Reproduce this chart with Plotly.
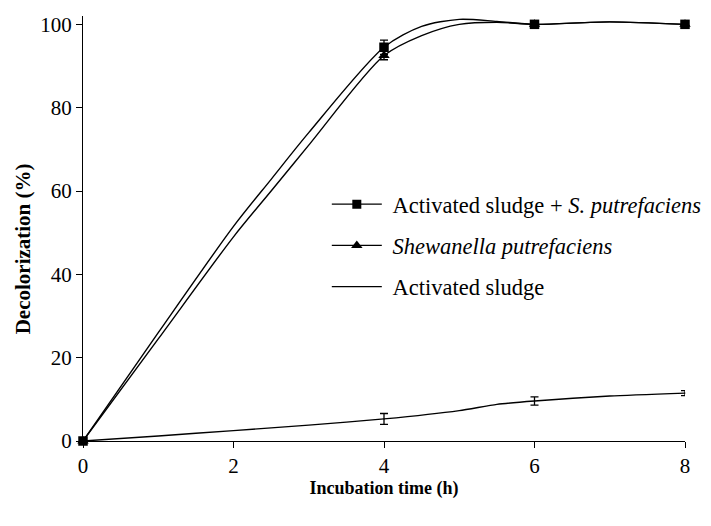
import plotly.graph_objects as go

# ---- data ----
time_curve = [0, 1, 2, 2.5, 3, 4, 4.5, 5, 5.5, 6, 7, 8]
combo_curve = [0, 26, 51.5, 62.8, 74, 94.5, 99.5, 101.2, 100.7, 100, 100.6, 100]
shew_curve = [0, 24.5, 49, 60, 71, 92.5, 97.3, 100, 100.5, 100, 100.6, 100]

time_low = [0, 1, 2, 3, 4, 5, 5.5, 6, 7, 8]
sludge_curve = [0, 1.2, 2.5, 3.8, 5.3, 7.3, 8.8, 9.6, 10.8, 11.5]

time_pts = [0, 4, 6, 8]
combo_pts = [0, 94.5, 100, 100]
combo_err = [0, 1.7, 0.6, 0.5]
shew_pts = [0, 92.5, 100, 100]
shew_err = [0, 1.0, 0.5, 0.5]
sludge_pts = [0, 5.3, 9.6, 11.5]
sludge_err = [0, 1.3, 1.0, 0.6]

x_ticks = [0, 2, 4, 6, 8]
y_ticks = [0, 20, 40, 60, 80, 100]

names = ["&nbsp;Activated sludge + <i>S. putrefaciens</i>",
         "&nbsp;<i>Shewanella putrefaciens</i>",
         "&nbsp;Activated sludge"]

FONT = "Liberation Serif, Times New Roman, serif"
LW = 1.4
Y_MAX = 102

fig = go.Figure()

# curves
fig.add_trace(go.Scatter(x=time_curve, y=combo_curve, mode="lines",
                         line=dict(color="black", width=LW, shape="spline", smoothing=0.8),
                         showlegend=False, cliponaxis=False, hoverinfo="skip"))
fig.add_trace(go.Scatter(x=time_curve, y=shew_curve, mode="lines",
                         line=dict(color="black", width=LW, shape="spline", smoothing=0.8),
                         showlegend=False, cliponaxis=False, hoverinfo="skip"))
fig.add_trace(go.Scatter(x=time_low, y=sludge_curve, mode="lines",
                         line=dict(color="black", width=LW, shape="spline", smoothing=0.6),
                         showlegend=False, cliponaxis=False, hoverinfo="skip"))

# markers with error bars
fig.add_trace(go.Scatter(x=time_pts, y=combo_pts, mode="markers",
                         marker=dict(symbol="square", size=9.5, color="black"),
                         error_y=dict(type="data", array=combo_err, color="black", thickness=1.3, width=4),
                         showlegend=False, cliponaxis=False))
fig.add_trace(go.Scatter(x=time_pts, y=shew_pts, mode="markers",
                         marker=dict(symbol="triangle-up", size=10, color="black"),
                         error_y=dict(type="data", array=shew_err, color="black", thickness=1.3, width=4),
                         showlegend=False, cliponaxis=False))
fig.add_trace(go.Scatter(x=time_pts, y=sludge_pts, mode="markers",
                         marker=dict(symbol="circle", size=1, color="black"),
                         error_y=dict(type="data", array=sludge_err, color="black", thickness=1.3, width=4),
                         showlegend=False, cliponaxis=False))

# legend entries
fig.add_trace(go.Scatter(x=[None], y=[None], mode="lines+markers", name=names[0],
                         line=dict(color="black", width=LW),
                         marker=dict(symbol="square", size=9, color="black"), legendgroup="a"))
fig.add_trace(go.Scatter(x=[None], y=[None], mode="lines+markers", name=names[1],
                         line=dict(color="black", width=LW),
                         marker=dict(symbol="triangle-up", size=10, color="black"), legendgroup="b"))
fig.add_trace(go.Scatter(x=[None], y=[None], mode="lines", name=names[2],
                         line=dict(color="black", width=LW), legendgroup="c"))

fig.add_annotation(text="<b>Decolorization (%)</b>", textangle=-90,
                   xref="paper", yref="paper", x=0, y=46 / Y_MAX,
                   xanchor="center", yanchor="middle", xshift=-60, showarrow=False,
                   font=dict(family=FONT, size=21, color="black"))

fig.update_layout(
    width=711, height=526,
    margin=dict(l=75, r=34, t=5, b=93),
    paper_bgcolor="white", plot_bgcolor="white",
    font=dict(family=FONT, color="black", size=20),
    showlegend=True,
    legend=dict(x=0.405, y=0.607, xanchor="left", yanchor="top",
                font=dict(family=FONT, size=22.5, color="black"),
                bgcolor="rgba(0,0,0,0)", tracegroupgap=9, itemwidth=50),
    xaxis=dict(range=[0, 8], tickvals=x_ticks, showgrid=False, zeroline=False,
               showline=True, linecolor="black", linewidth=1.3,
               ticks="outside", ticklen=6, tickwidth=1.3, tickcolor="black",
               tickfont=dict(family=FONT, size=21),
               title=dict(text="<b>Incubation time (h)</b>", font=dict(family=FONT, size=18), standoff=3)),
    yaxis=dict(range=[0, Y_MAX], tickvals=y_ticks, showgrid=False, zeroline=False,
               showline=True, linecolor="black", linewidth=1.3,
               ticks="outside", ticklen=6, tickwidth=1.3, tickcolor="black",
               tickfont=dict(family=FONT, size=21)),
)

fig.write_html("out.html")
